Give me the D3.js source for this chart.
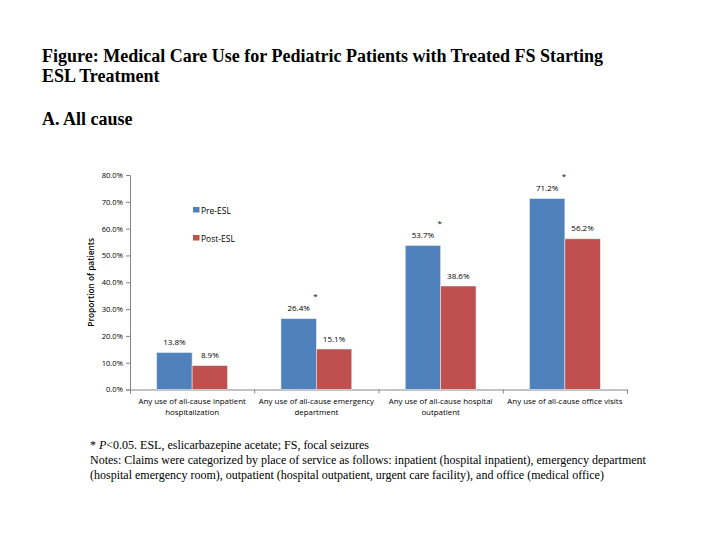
<!DOCTYPE html>
<html><head><meta charset="utf-8">
<script src="https://cdn.jsdelivr.net/npm/d3@7"></script>
<style>body{margin:0;background:#fff}</style>
</head><body>
<svg id="c" width="720" height="540"></svg>
<script>
const categories = [
  ["Any use of all-cause inpatient", "hospitalization"],
  ["Any use of all-cause emergency", "department"],
  ["Any use of all-cause hospital", "outpatient"],
  ["Any use of all-cause office visits"]
];
const series = ["Pre-ESL", "Post-ESL"];
const preESL = [13.8, 26.4, 53.7, 71.2];
const postESL = [8.9, 15.1, 38.6, 56.2];
const significant = [false, true, true, true];
const yTicks = [0, 10, 20, 30, 40, 50, 60, 70, 80];
const colors = ["#4F81BD", "#C0504D"];

(function () {
const svg = d3.select("#c");
const sans = "'Open Sans', 'Liberation Sans', sans-serif";
const serif = "'Liberation Serif', 'Times New Roman', serif";

// Titles
svg.append("text").attr("x", 42).attr("y", 61.5).attr("font-family", serif).attr("font-weight", "bold")
  .attr("font-size", 18).attr("fill", "#000").text("Figure: Medical Care Use for Pediatric Patients with Treated FS Starting");
svg.append("text").attr("x", 42).attr("y", 81.5).attr("font-family", serif).attr("font-weight", "bold")
  .attr("font-size", 18).attr("fill", "#000").text("ESL Treatment");
svg.append("text").attr("x", 42).attr("y", 125).attr("font-family", serif).attr("font-weight", "bold")
  .attr("font-size", 18).attr("fill", "#000").text("A. All cause");

const pL = 130, pR = 627, pT = 175, pB = 389.5;
const y = d3.scaleLinear().domain([0, 80]).range([pB, pT]);
const x0 = d3.scaleBand().domain(d3.range(categories.length)).range([pL, pR]).paddingInner(0.43).paddingOuter(0.215);
const x1 = d3.scaleBand().domain([0, 1]).range([0, x0.bandwidth()]);

// Y axis
const yAxis = d3.axisLeft(y).tickValues(yTicks).tickSize(4).tickFormat(d => d.toFixed(1) + "%");
const gy = svg.append("g").attr("transform", `translate(${pL},0)`).call(yAxis);
gy.select(".domain").attr("stroke", "#868686");
gy.selectAll(".tick line").attr("stroke", "#868686");
gy.selectAll(".tick text").attr("font-family", sans).attr("font-size", 7.6).attr("fill", "#000").attr("x", -7);

// X axis
const xb = d3.scaleLinear().domain([0, categories.length]).range([pL, pR]);
const gx = svg.append("g").attr("transform", `translate(0,${pB})`)
  .call(d3.axisBottom(xb).tickValues(d3.range(categories.length + 1)).tickSize(4).tickFormat(""));
gx.select(".domain").attr("stroke", "#868686");
gx.selectAll(".tick line").attr("stroke", "#868686");

// Category labels
categories.forEach((lines, i) => {
  const cx = (xb(i) + xb(i + 1)) / 2;
  const t = svg.append("text").attr("text-anchor", "middle").attr("font-family", sans)
    .attr("font-size", 7.9).attr("fill", "#000");
  lines.forEach((l, j) => t.append("tspan").attr("x", cx).attr("y", 404 + j * 10.5).text(l));
});

// Y label
svg.append("text").attr("transform", `translate(94,${(pT + pB) / 2}) rotate(-90)`)
  .attr("text-anchor", "middle").attr("font-family", sans).attr("font-size", 8.3).attr("font-weight", 600)
  .attr("fill", "#000").text("Proportion of patients");

// Bars
const data = [preESL, postESL];
const g = svg.append("g");
categories.forEach((c, i) => {
  data.forEach((vals, s) => {
    const bx = x0(i) + x1(s);
    g.append("rect").attr("x", bx).attr("y", y(vals[i])).attr("width", x1.bandwidth())
      .attr("height", pB - y(vals[i])).attr("fill", colors[s]).attr("stroke", "#e4e9f0").attr("stroke-width", 0.6);
    g.append("text").attr("x", bx + x1.bandwidth() / 2).attr("y", y(vals[i]) - 7.5)
      .attr("text-anchor", "middle").attr("font-family", sans).attr("font-size", 8).attr("fill", "#000")
      .text(vals[i].toFixed(1) + "%");
  });
  if (significant[i]) {
    g.append("text").attr("x", x0(i) + x0.bandwidth() / 2 - 1).attr("y", y(preESL[i]) - 20)
      .attr("text-anchor", "middle").attr("font-family", sans).attr("font-size", 8).attr("fill", "#000").text("*");
  }
});

// Legend
series.forEach((s, i) => {
  const ly = 207 + i * 28;
  svg.append("rect").attr("x", 193).attr("y", ly).attr("width", 6.5).attr("height", 5.5).attr("fill", colors[i]);
  svg.append("text").attr("x", 201).attr("y", ly + 7).attr("font-family", sans).attr("font-size", 8.5)
    .attr("fill", "#000").text(s);
});

// Footnotes
const fn = svg.append("text").attr("x", 90).attr("y", 449).attr("font-family", serif).attr("font-size", 12).attr("fill", "#000");
fn.append("tspan").text("* ");
fn.append("tspan").attr("font-style", "italic").text("P");
fn.append("tspan").text("<0.05. ESL, eslicarbazepine acetate; FS, focal seizures");
svg.append("text").attr("x", 90).attr("y", 464).attr("font-family", serif).attr("font-size", 12).attr("fill", "#000")
  .text("Notes:  Claims were categorized by place of service as follows: inpatient (hospital inpatient), emergency department");
svg.append("text").attr("x", 90).attr("y", 479).attr("font-family", serif).attr("font-size", 12).attr("fill", "#000")
  .text("(hospital emergency room), outpatient (hospital outpatient, urgent care facility), and office (medical office)");
})();
</script>
</body></html>
